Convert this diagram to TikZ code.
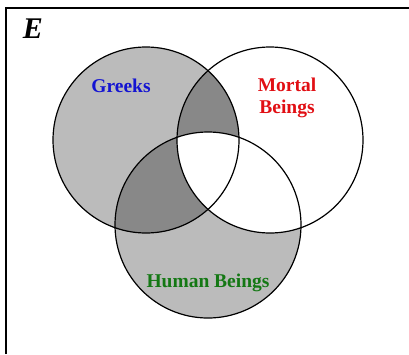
\documentclass[tikz,border=0pt]{standalone}
\usepackage{fontspec}
\setmainfont{Liberation Serif}
\definecolor{lightshade}{RGB}{187,187,187}
\definecolor{darkshade}{RGB}{136,136,136}
\definecolor{greekblue}{RGB}{20,20,210}
\definecolor{mortalred}{RGB}{225,15,20}
\definecolor{humangreen}{RGB}{20,120,20}
\begin{document}
\begin{tikzpicture}[x=1pt,y=-1pt]
            \useasboundingbox (0,0) rectangle (409,354);
            \coordinate (G) at (146,140);
            \coordinate (M) at (270,140);
            \coordinate (H) at (208,225);
            
            \fill[lightshade] (G) circle (93);
            \fill[lightshade] (H) circle (93);
            \begin{scope}
                \clip (G) circle (93);
                \fill[darkshade] (M) circle (93);
                \fill[darkshade] (H) circle (93);
            \end{scope}
            \begin{scope}
                \clip (M) circle (93);
                \fill[white] (H) circle (93);
            \end{scope}
            
            \draw[line width=1.2pt] (G) circle (93);
            \draw[line width=1.2pt] (M) circle (93);
            \draw[line width=1.2pt] (H) circle (93);
            
            \draw[line width=1.6pt] (6,354) -- (6,8) -- (409,8);
            \node[font=\fontsize{30}{31}\selectfont\bfseries\itshape] (universe) at (33,29) {E};
            
            \node[greekblue, font=\fontsize{19.5}{21}\selectfont\bfseries] (greeks) at (121,86) {Greeks};
            \node[mortalred, align=center, font=\fontsize{19.5}{22}\selectfont\bfseries] (mortal) at (287,98) {Mortal\\Beings};
            \node[humangreen, font=\fontsize{19.5}{21}\selectfont\bfseries] (human) at (208,283) {Human Beings};
        \end{tikzpicture}
\end{document}
